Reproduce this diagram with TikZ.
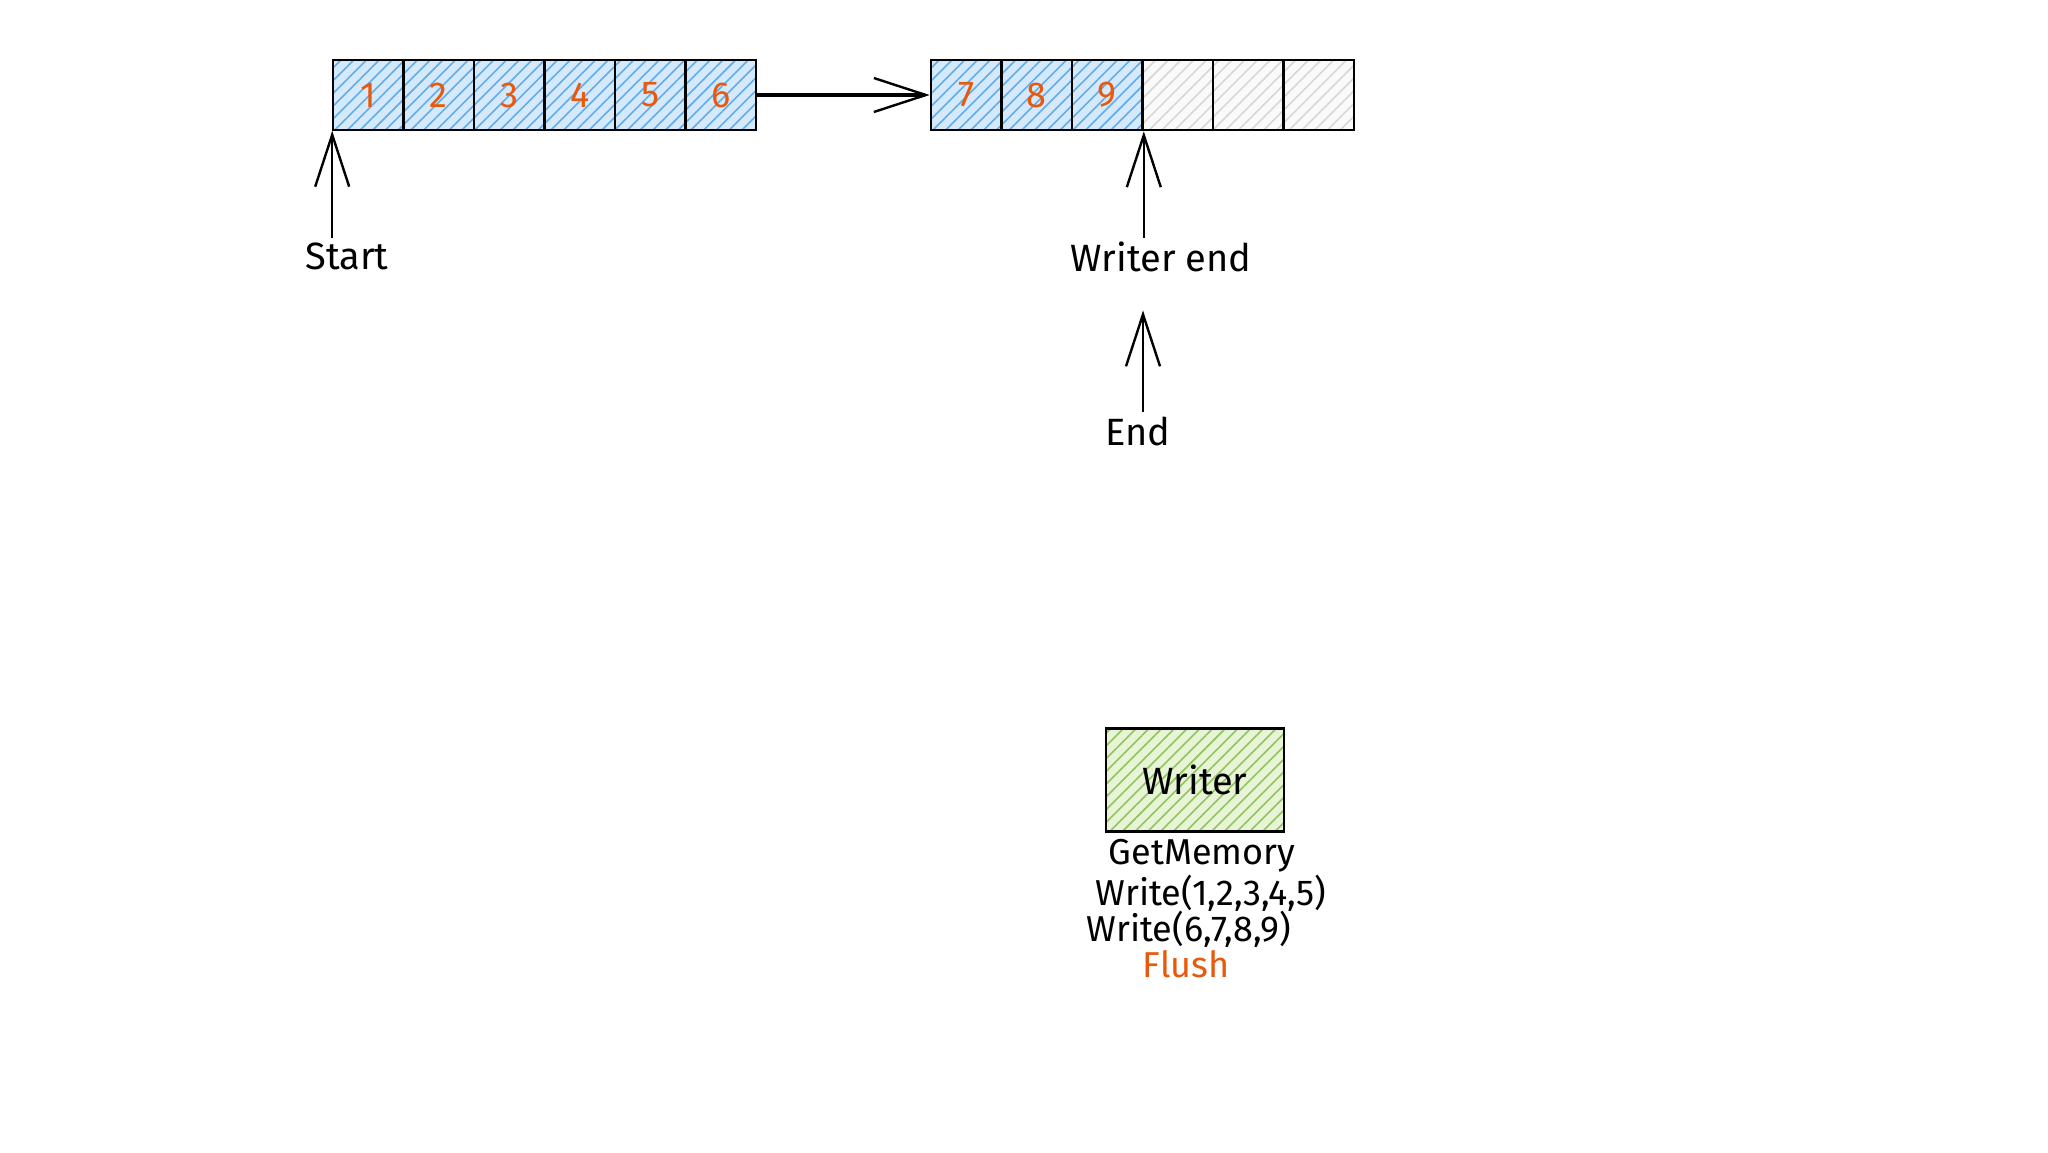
\documentclass[tikz,border=0pt]{standalone}
\usepackage{fontspec}
\setmainfont{Fira Sans}
\definecolor{cellblue}{RGB}{212,234,252}
\definecolor{hatchblue}{RGB}{100,172,232}
\definecolor{cellgray}{RGB}{250,250,250}
\definecolor{hatchgray}{RGB}{215,215,215}
\definecolor{writergreen}{RGB}{232,244,214}
\definecolor{hatchgreen}{RGB}{145,196,95}
\definecolor{numorange}{RGB}{232,89,12}
\usetikzlibrary{arrows.meta,positioning,patterns.meta}

\begin{document}
\begin{tikzpicture}[x=0.5pt, y=-0.5pt,
  cell/.style={draw=black, line width=1.3pt, minimum width=35.25pt, minimum height=35pt, inner sep=0pt, font=\fontsize{18}{21}\selectfont, text=numorange},
  fullcell/.style={cell, preaction={fill=cellblue}, pattern={Lines[angle=45,distance=4.5pt,line width=0.8pt]}, pattern color=hatchblue},
  freecell/.style={cell, preaction={fill=cellgray}, pattern={Lines[angle=45,distance=4.5pt,line width=0.8pt]}, pattern color=hatchgray},
  sketch/.style={-{Straight Barb[length=26pt,width=17pt,line width=1.2pt]}, line width=1.2pt},
  lbl/.style={font=\fontsize{19}{22}\selectfont, inner sep=2pt},
  call/.style={font=\fontsize{18}{21}\selectfont, inner sep=0pt}]
  \useasboundingbox[fill=white] (0,0) rectangle (2048,1152);

  %--- Buffers ---
  \foreach \n [count=\i] in {1,...,6}
    \node[fullcell] (a\i) at ({297.75+70.5*\i},95) {\n};
  \foreach \n [count=\i] in {7,8,9}
    \node[fullcell] (b\i) at ({895.75+70.5*\i},95) {\n};
  \foreach \i in {4,5,6}
    \node[freecell] (b\i) at ({895.75+70.5*\i},95) {};

  \draw[sketch, line width=1.6pt] (a6.east) -- (b1.west);

  %--- Pointers ---
  \node[lbl] (start) at (347,256) {Start};
  \node[lbl] (wend) at (1161,257) {Writer end};
  \node[lbl] (endlbl) at (1138,431) {End};

  \draw[sketch] (start.north -| a1.south west) -- (a1.south west);
  \draw[sketch] (wend.north -| b3.south east) -- (b3.south east);
  \draw[sketch, shorten >=17pt] (endlbl.north -| 1143,0) -- (wend.south -| 1143,0);

  %--- Writer ---
  \node[draw=black, line width=1.3pt, preaction={fill=writergreen}, pattern={Lines[angle=45,distance=4.5pt,line width=0.8pt]}, pattern color=hatchgreen, minimum width=89pt, minimum height=51.5pt, font=\fontsize{19}{22}\selectfont] (writer) at (1195,780) {Writer};

  \node[call] (getmem) at (1202,856) {GetMemory};
  \node[call] (writea) at (1211,893) {Write(1,2,3,4,5)};
  \node[call] (writeb) at (1189,929) {Write(6,7,8,9)};
  \node[call, text=numorange] (flush) at (1186,964) {Flush};
\end{tikzpicture}
\end{document}
